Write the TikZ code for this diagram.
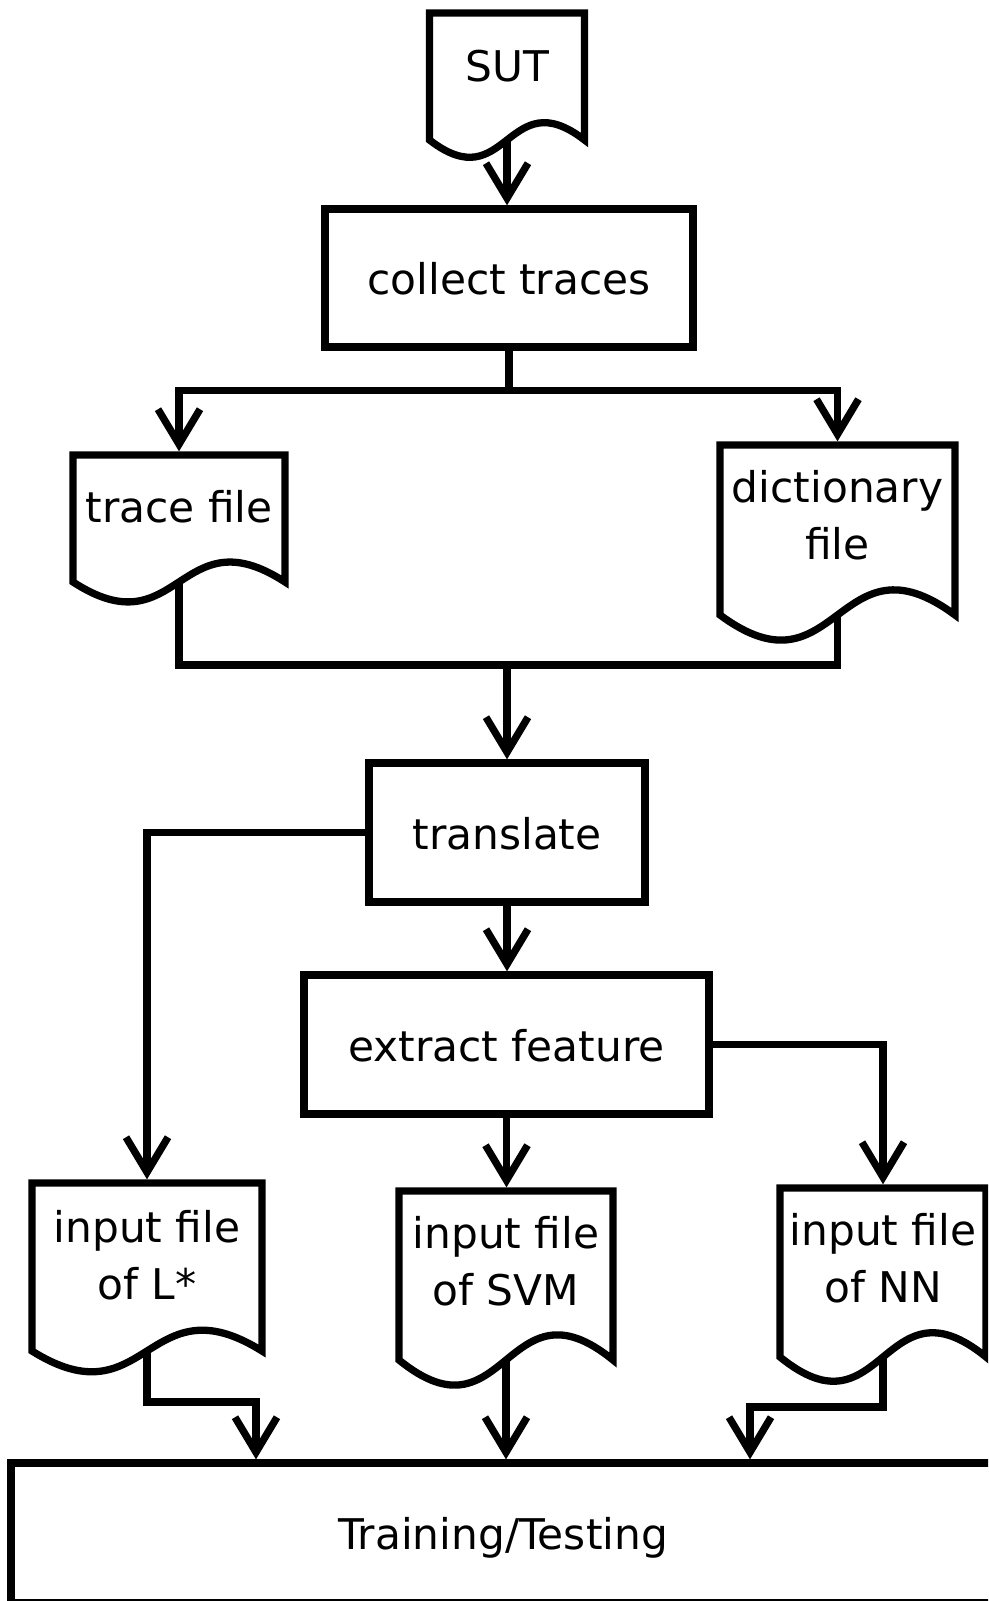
\documentclass[tikz,border=0pt]{standalone}
\usepackage{fontspec}
\setmainfont{DejaVu Sans}
\usetikzlibrary{arrows.meta}

\tikzset{
	line/.style={line width=7.3pt},
	box/.style={line, draw, rectangle, inner sep=0pt, align=center, text height=42.5pt, text depth=9pt},
	doc/.style={rectangle, inner sep=0pt, outer sep=0pt, align=center},
	flow/.style={line, -{Straight Barb[sharp, length=35pt, width=42pt]}},
	todoc/.style={flow, shorten >=3.65pt},
}

% Dokument: Rahmen mit Welle unten, #2 = Tiefe der Welle
\newcommand\docshape[2]{%
	\draw[line] ([yshift=-#2]#1.south west) -- (#1.north west) -- (#1.north east) -- ([yshift=-#2]#1.south east)
		.. controls ([yshift=2*#2]#1.south) and ([yshift=-4*#2]#1.south) .. ([yshift=-#2]#1.south west) -- cycle;
	\coordinate (#1 out) at ([yshift=-#2]#1.south);
}

\begin{document}
\begin{tikzpicture}[x=1pt, y=1pt, font=\fontsize{42.3}{57}\selectfont]

\useasboundingbox (0,0) rectangle (988,1601);
\clip (0,0) rectangle (988,1601);

%Knoten
\node[doc, minimum width=155pt, minimum height=107pt] (sut) at (507,1534.5) {SUT};
\node[box, minimum width=368pt, minimum height=138pt] (collect) at (509,1323) {collect traces};

\node[doc, minimum width=212pt, minimum height=104pt] (trace) at (179,1094) {trace file};
\node[doc, minimum width=235pt, minimum height=141pt] (dict) at (837.5,1085.5) {dictionary\\file};

\node[box, minimum width=276pt, minimum height=139pt] (translate) at (507,768.5) {translate};
\node[box, minimum width=405pt, minimum height=139pt] (extract) at (506.5,556.5) {extract feature};

\node[doc, minimum width=230pt, minimum height=144pt] (lstar) at (147,346) {input file\\of L*};
\node[doc, minimum width=214pt, minimum height=140pt] (svm) at (506,340) {input file\\of SVM};
\node[doc, minimum width=206pt, minimum height=141pt] (nn) at (883,342.5) {input file\\of NN};

\node[box, minimum width=984pt, minimum height=140pt] (train) at (503,68) {Training/Testing};

\docshape{sut}{20pt}
\docshape{trace}{23pt}
\docshape{dict}{29pt}
\docshape{lstar}{24pt}
\docshape{svm}{29pt}
\docshape{nn}{28pt}

%Pfeile
\draw[flow] (sut out) -- (sut out |- collect.north);
\draw[todoc] (collect.south) -- ++(0,-40) -| (trace.north);
\draw[todoc] (collect.south) -- ++(0,-40) -| (dict.north);

\coordinate (merge) at (507,936);
\draw[line] (trace out) |- (merge) -| (dict out);
\draw[flow] (merge) -- (merge |- translate.north);

\draw[todoc] (translate.west) -| (lstar.north);
\draw[flow] (translate.south) -- (translate.south |- extract.north);
\draw[todoc] (extract.east) -| (nn.north);
\draw[todoc] (extract.south) -- (extract.south |- svm.north);

\draw[flow] (lstar out) -- ++(0,-51) -| ([xshift=-247pt]train.north);
\draw[flow] (svm out) -- (svm out |- train.north);
\draw[flow] (nn out) -- ++(0,-50) -| ([xshift=247pt]train.north);

\end{tikzpicture}
\end{document}
